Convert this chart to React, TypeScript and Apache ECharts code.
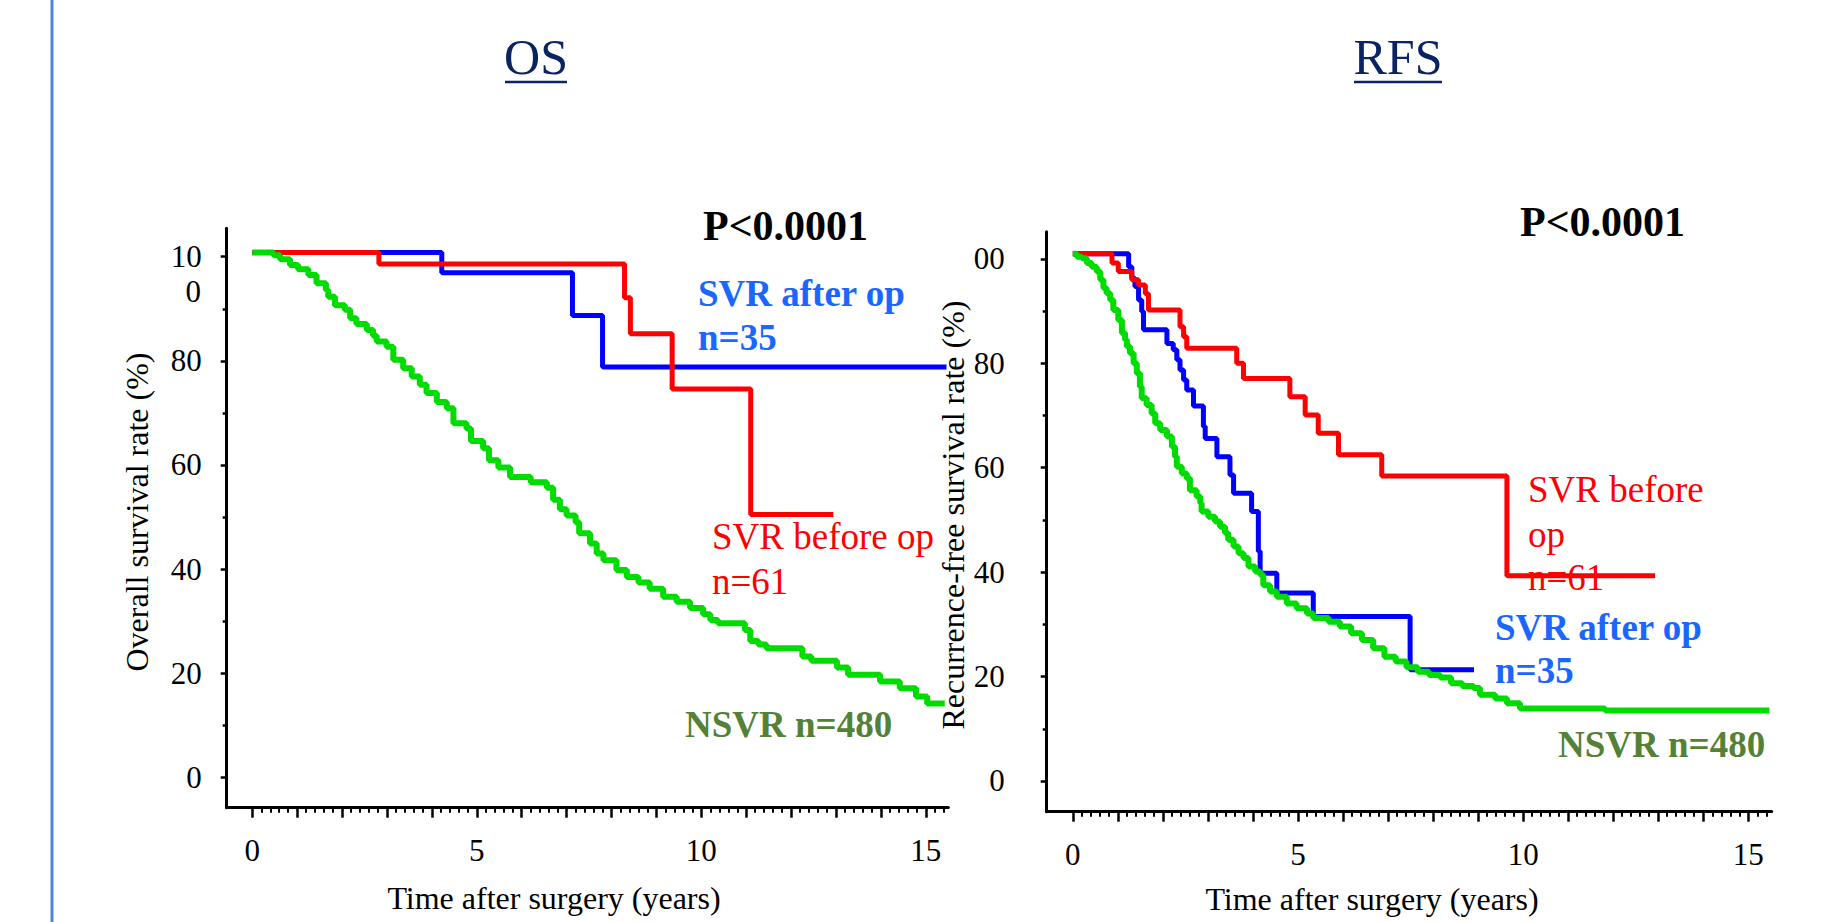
import React, { useEffect, useRef } from "react";
import * as echarts from "echarts";

const FONT = '"Liberation Serif", "Times New Roman", serif';

// Axis ticks / labels
const X_TICKS = [0, 1, 2, 3, 4, 5, 6, 7, 8, 9, 10, 11, 12, 13, 14, 15];
const X_LABELS = [0, 5, 10, 15];
const Y_TICKS = [0, 20, 40, 60, 80, 100];
const Y_MINOR = [10, 30, 50, 70, 90];
const X_MINOR: number[] = [];
for (let i = 0; i <= 77; i++) {
  if (i % 5 !== 0) X_MINOR.push(Math.round(i * 0.2 * 10) / 10);
}

// ---- OS (overall survival) ----
const OS_SVR_AFTER: [number, number][] = [
  [0, 100.8], [4.22, 96.9], [7.13, 88.7], [7.8, 78.8], [15.46, 78.8],
];
const OS_SVR_BEFORE: [number, number][] = [
  [0, 100.8], [2.82, 98.6], [8.29, 92.1], [8.42, 85.2], [9.35, 74.6], [11.1, 50.5], [12.94, 50.5],
];
const OS_NSVR: [number, number][] = [
  [0, 100.8], [0.47, 100.3], [0.62, 99.5], [0.84, 98.4], [1.02, 97.6], [1.25, 96.5], [1.43, 94.9],
  [1.64, 93.6], [1.69, 92.3], [1.84, 90.7], [2.06, 89.8], [2.18, 88.2], [2.32, 87.1], [2.55, 85.9],
  [2.69, 84.8], [2.77, 83.7], [2.99, 82.7], [3.14, 80.2], [3.36, 78.6], [3.55, 77.0], [3.73, 75.4],
  [3.88, 73.8], [4.11, 72.1], [4.33, 70.9], [4.48, 68.0], [4.77, 67.0], [4.87, 64.6], [5.14, 63.2],
  [5.27, 60.9], [5.48, 59.5], [5.74, 57.7], [6.2, 56.7], [6.56, 55.6], [6.7, 53.3], [6.85, 51.5],
  [7.0, 50.3], [7.2, 49.0], [7.28, 46.9], [7.52, 44.9], [7.67, 43.0], [7.82, 41.7], [8.11, 39.8],
  [8.34, 38.5], [8.6, 37.4], [8.85, 36.2], [9.15, 34.7], [9.45, 33.7], [9.75, 32.5], [10.04, 31.3],
  [10.2, 30.2], [10.37, 29.6], [10.97, 28.3], [11.09, 26.2], [11.27, 25.5], [11.45, 24.8],
  [12.25, 23.2], [12.45, 22.4], [13.02, 21.1], [13.27, 19.7], [13.98, 18.4], [14.42, 17.1],
  [14.78, 15.5], [15.03, 14.2], [15.42, 14.2],
];

// ---- RFS (recurrence-free survival) ----
const RFS_SVR_BEFORE: [number, number][] = [
  [0, 101.0], [0.87, 99.2], [1.01, 97.6], [1.31, 96.0], [1.46, 95.0], [1.61, 93.3], [1.68, 90.2],
  [2.38, 87.0], [2.46, 85.1], [2.53, 82.9], [3.64, 80.0], [3.79, 77.1], [4.82, 73.6], [5.16, 70.1],
  [5.45, 66.6], [5.9, 62.5], [6.86, 58.4], [9.64, 39.3], [12.93, 39.3],
];
const RFS_SVR_AFTER: [number, number][] = [
  [0, 101.0], [1.24, 98.5], [1.31, 96.3], [1.38, 94.7], [1.46, 92.1], [1.53, 89.9], [1.57, 86.4],
  [2.09, 83.8], [2.23, 82.6], [2.31, 80.7], [2.38, 78.7], [2.46, 76.8], [2.53, 74.9], [2.68, 71.8],
  [2.9, 67.9], [2.94, 65.6], [3.2, 62.1], [3.49, 58.6], [3.57, 55.1], [3.97, 51.6], [4.12, 44.0],
  [4.16, 39.8], [4.53, 36.0], [5.34, 31.5], [7.49, 21.3], [8.91, 21.3],
];
const RFS_NSVR: [number, number][] = [
  [0, 101.0], [0.09, 100.4], [0.2, 100.1], [0.31, 99.2], [0.42, 98.5], [0.53, 97.6], [0.61, 96.0],
  [0.68, 94.4], [0.75, 93.4], [0.83, 92.1], [0.9, 90.2], [1.01, 88.3], [1.09, 85.8], [1.16, 84.5],
  [1.2, 83.2], [1.27, 81.9], [1.35, 80.0], [1.42, 78.1], [1.49, 75.5], [1.53, 73.3], [1.64, 72.0],
  [1.75, 70.4], [1.83, 68.5], [1.94, 67.2], [2.09, 66.0], [2.2, 64.0], [2.27, 62.1], [2.31, 60.2],
  [2.42, 58.9], [2.53, 58.0], [2.6, 55.7], [2.75, 54.5], [2.83, 53.2], [2.86, 51.6], [3.01, 50.6],
  [3.16, 49.7], [3.27, 48.7], [3.38, 47.5], [3.45, 46.2], [3.57, 44.9], [3.68, 43.6], [3.79, 42.7],
  [3.9, 41.1], [4.05, 40.1], [4.16, 39.5], [4.23, 37.5], [4.38, 36.3], [4.53, 35.3], [4.75, 34.0],
  [4.97, 33.1], [5.2, 32.1], [5.34, 31.2], [5.68, 30.5], [5.93, 29.6], [6.18, 28.3], [6.42, 27.0],
  [6.67, 25.4], [6.92, 23.8], [7.17, 22.9], [7.41, 21.8], [7.66, 20.9], [7.91, 20.3], [8.16, 19.8],
  [8.4, 18.7], [8.65, 18.2], [8.9, 17.8], [9.04, 16.5], [9.38, 15.8], [9.64, 14.9], [9.93, 13.9],
  [11.82, 13.5], [15.47, 13.5],
];

const RED = "#ff0000";
const BLUE = "#0000ff";
const GREEN = "#00dc00";
const LABEL_BLUE = "#1a66ff";
const LABEL_GREEN = "#538135";
const TITLE_NAVY = "#0a2463";
const TICK_FS = 31;

function majorX(grid: number, min: number, max: number) {
  return {
    type: "value", gridIndex: grid, min, max, position: "bottom",
    axisLine: { show: true, onZero: false, lineStyle: { color: "#000", width: 3 } },
    axisTick: { show: true, customValues: X_TICKS, length: 10, inside: false, lineStyle: { color: "#000", width: 2.5 } },
    axisLabel: { show: true, customValues: X_LABELS, margin: 27, color: "#000", fontSize: TICK_FS, fontFamily: FONT },
    splitLine: { show: false },
  };
}
function minorX(grid: number, min: number, max: number) {
  return {
    type: "value", gridIndex: grid, min, max, position: "bottom",
    axisLine: { show: false, onZero: false },
    axisTick: { show: true, customValues: X_MINOR, length: 5, inside: false, lineStyle: { color: "#000", width: 2 } },
    axisLabel: { show: false },
    splitLine: { show: false },
  };
}
function majorY(grid: number, min: number, max: number, margin: number, top: string) {
  return {
    type: "value", gridIndex: grid, min, max, position: "left",
    axisLine: { show: true, onZero: false, lineStyle: { color: "#000", width: 3 } },
    axisTick: { show: true, customValues: Y_TICKS, length: 6, inside: false, lineStyle: { color: "#000", width: 2.5 } },
    axisLabel: {
      show: true, customValues: Y_TICKS, margin, color: "#000", fontSize: TICK_FS, fontFamily: FONT,
      formatter: (v: number) => (v === 100 ? top : String(v)),
    },
    splitLine: { show: false },
  };
}
function minorY(grid: number, min: number, max: number) {
  return {
    type: "value", gridIndex: grid, min, max, position: "left",
    axisLine: { show: false, onZero: false },
    axisTick: { show: true, customValues: Y_MINOR, length: 4, inside: false, lineStyle: { color: "#000", width: 2.5 } },
    axisLabel: { show: false },
    splitLine: { show: false },
  };
}

function km(data: [number, number][], color: string, width: number, xi: number, yi: number) {
  return {
    type: "line", data, step: "end", xAxisIndex: xi, yAxisIndex: yi,
    showSymbol: false, symbol: "none", silent: true,
    lineStyle: { color, width },
  };
}

function txt(text: string, x: number, y: number, font: string, fill: string, align = "left", rotation = 0) {
  return {
    type: "text", x, y, rotation, silent: true,
    style: { text, font, fill, align, verticalAlign: "middle", textAlign: align, textVerticalAlign: "middle" },
  };
}

export default function App() {
  const ref = useRef<HTMLDivElement>(null);
  useEffect(() => {
    if (!ref.current) return;
    const chart = echarts.init(ref.current, undefined, { renderer: "svg" });
    const bold37 = `bold 37px ${FONT}`;
    const reg37 = `37px ${FONT}`;
    const axisT = `32px ${FONT}`;
    chart.setOption({
      animation: false,
      backgroundColor: "#ffffff",
      grid: [
        { left: 226.7, top: 228.3, width: 721.6, height: 579.4, containLabel: false, outerBoundsMode: "none" },
        { left: 1046.7, top: 231.7, width: 725, height: 580, containLabel: false, outerBoundsMode: "none" },
      ],
      xAxis: [
        majorX(0, -0.57, 15.5), minorX(0, -0.57, 15.5),
        majorX(1, -0.58, 15.52), minorX(1, -0.58, 15.52),
      ],
      yAxis: [
        majorY(0, -5.84, 105.46, 25, "10"), minorY(0, -5.84, 105.46),
        majorY(1, -5.88, 105.2, 42, "00"), minorY(1, -5.88, 105.2),
      ],
      series: [
        km(OS_SVR_AFTER, BLUE, 5, 0, 0),
        km(OS_SVR_BEFORE, RED, 5, 0, 0),
        km(OS_NSVR, GREEN, 6, 0, 0),
        km(RFS_SVR_AFTER, BLUE, 5, 2, 2),
        km(RFS_SVR_BEFORE, RED, 5, 2, 2),
        km(RFS_NSVR, GREEN, 6, 2, 2),
      ],
      graphic: [
        { type: "line", silent: true, shape: { x1: 52, y1: 0, x2: 52, y2: 922 }, style: { stroke: "#5283dc", lineWidth: 3 } },
        txt("OS", 536, 57, `50px ${FONT}`, TITLE_NAVY, "center"),
        { type: "line", silent: true, shape: { x1: 505, y1: 82, x2: 567, y2: 82 }, style: { stroke: TITLE_NAVY, lineWidth: 2.5 } },
        txt("RFS", 1398, 57, `50px ${FONT}`, TITLE_NAVY, "center"),
        { type: "line", silent: true, shape: { x1: 1354, y1: 82, x2: 1442, y2: 82 }, style: { stroke: TITLE_NAVY, lineWidth: 2.5 } },
        // second line of wrapped "100" tick label
        txt("0", 201, 291.7, `${TICK_FS}px ${FONT}`, "#000", "right"),
        // axis titles
        txt("Overall survival rate (%)", 137, 512, axisT, "#000", "center", Math.PI / 2),
        txt("Recurrence-free survival rate (%)", 953, 515, axisT, "#000", "center", Math.PI / 2),
        txt("Time after surgery (years)", 554, 898, axisT, "#000", "center"),
        txt("Time after surgery (years)", 1372, 899, axisT, "#000", "center"),
        // OS annotations
        txt("P<0.0001", 703, 226, `bold 42px ${FONT}`, "#000"),
        txt("SVR after op", 698, 293.4, bold37, LABEL_BLUE),
        txt("n=35", 698, 337.4, bold37, LABEL_BLUE),
        txt("SVR before op", 712, 536.7, reg37, RED),
        txt("n=61", 712, 581.7, reg37, RED),
        txt("NSVR n=480", 685, 724.1, bold37, LABEL_GREEN),
        // RFS annotations
        txt("P<0.0001", 1520, 222, `bold 42px ${FONT}`, "#000"),
        txt("SVR before", 1528, 489, reg37, RED),
        txt("op", 1528, 534, reg37, RED),
        txt("n=61", 1528, 577.4, reg37, RED),
        txt("SVR after op", 1495, 627.4, bold37, LABEL_BLUE),
        txt("n=35", 1495, 670.4, bold37, LABEL_BLUE),
        txt("NSVR n=480", 1558, 744.1, bold37, LABEL_GREEN),
      ],
    });
    return () => chart.dispose();
  }, []);
  return (
    <div
      ref={ref}
      style={{ position: "absolute", left: 0, top: 0, width: 1823, height: 922, background: "#fff" }}
    />
  );
}
